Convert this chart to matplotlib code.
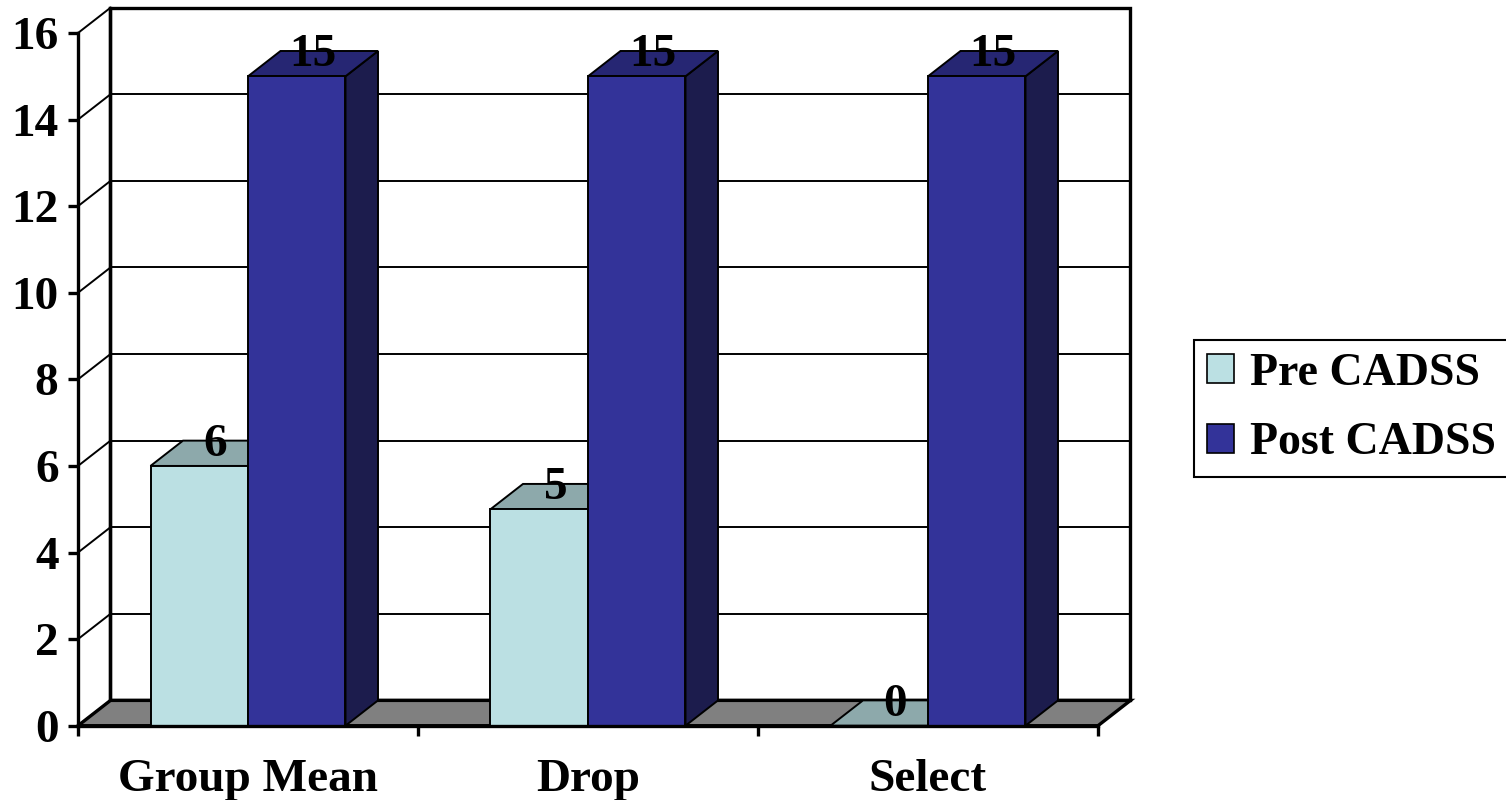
import matplotlib
matplotlib.use("Agg")
import matplotlib.pyplot as plt
from matplotlib.patches import Polygon, Patch
from matplotlib.lines import Line2D

categories = ["Group Mean", "Drop", "Select"]
series_names = ["Pre CADSS", "Post CADSS"]
pre_values = [6, 5, 0]
post_values = [15, 15, 15]
y_ticks = [0, 2, 4, 6, 8, 10, 12, 14, 16]

FONT = "Liberation Serif"
FS = 34

front_colors = ["#BBE0E3", "#333399"]
top_colors = ["#8DA9AB", "#262673"]
side_colors = ["#5E7072", "#1C1C4D"]
floor_color = "#808080"

fig = plt.figure(figsize=(15.06, 8.0), dpi=100)
W, H = 1506, 800
x0px, x1px = 78, 1098
y0px, y1px = 725.7, 33
ax = fig.add_axes([x0px / W, 1 - y0px / H, (x1px - x0px) / W, (y0px - y1px) / H])
ncat = len(categories)
ymax = y_ticks[-1]
ax.set_xlim(0, ncat)
ax.set_ylim(0, ymax)

px_x = (x1px - x0px) / ncat          # pixels per category unit
px_y = (y0px - y1px) / ymax          # pixels per value unit
dx = 32.5 / px_x                     # depth offset
dy = 25.3 / px_y
bw = 97.5 / px_x                     # bar width

LW = 1.4
AXW = 2.4

# back wall
ax.add_patch(Polygon([(dx, dy), (ncat + dx, dy), (ncat + dx, ymax + dy), (dx, ymax + dy)],
                     closed=True, facecolor="white", edgecolor="black", lw=AXW,
                     clip_on=False, zorder=1))
for v in y_ticks:
    ax.add_line(Line2D([dx, ncat + dx], [v + dy, v + dy], color="black", lw=LW,
                       clip_on=False, zorder=1.2))
    ax.add_line(Line2D([0, dx], [v, v + dy], color="black", lw=LW,
                       clip_on=False, zorder=1.2))
ax.add_line(Line2D([dx, dx], [dy, ymax + dy], color="black", lw=AXW, clip_on=False, zorder=1.3))

# floor
ax.add_patch(Polygon([(0, 0), (ncat, 0), (ncat + dx, dy), (dx, dy)], closed=True,
                     facecolor=floor_color, edgecolor="black", lw=AXW, clip_on=False, zorder=1.5))


def draw_bar(xl, val, si, z):
    xr = xl + bw
    front = [(xl, 0), (xr, 0), (xr, val), (xl, val)]
    top = [(xl, val), (xr, val), (xr + dx, val + dy), (xl + dx, val + dy)]
    side = [(xr, 0), (xr + dx, dy), (xr + dx, val + dy), (xr, val)]
    ax.add_patch(Polygon(side, closed=True, facecolor=side_colors[si], edgecolor="black",
                         lw=LW, clip_on=False, zorder=z))
    ax.add_patch(Polygon(top, closed=True, facecolor=top_colors[si], edgecolor="black",
                         lw=LW, clip_on=False, zorder=z))
    if val > 0:
        ax.add_patch(Polygon(front, closed=True, facecolor=front_colors[si], edgecolor="black",
                             lw=LW, clip_on=False, zorder=z + 0.1))
    base_off = 15.5 / px_y
    ax.text(xl + bw / 2 + dx / 2, val + dy - base_off, f"{val:g}", ha="center", va="baseline",
            fontsize=FS, fontweight="bold", family=FONT, zorder=10)


for i in range(ncat):
    c = i + 0.5
    draw_bar(c - bw, pre_values[i], 0, 2 + i)
    draw_bar(c, post_values[i], 1, 2.5 + i)

# axes spines and ticks
for s in ["top", "right"]:
    ax.spines[s].set_visible(False)
ax.spines["left"].set_linewidth(AXW)
ax.spines["bottom"].set_linewidth(AXW)
ax.spines["left"].set_zorder(6)
ax.spines["bottom"].set_zorder(6)
ax.set_facecolor("none")
ax.set_yticks(y_ticks)
ax.set_yticklabels([str(v) for v in y_ticks], fontsize=FS, fontweight="bold", family=FONT)
ax.set_xticks(range(ncat + 1))
ax.set_xticklabels([""] * (ncat + 1))
ax.set_xticks([i + 0.5 for i in range(ncat)], minor=True)
ax.set_xticklabels(categories, minor=True, fontsize=FS, fontweight="bold", family=FONT)
ax.tick_params(axis="y", which="major", length=7, width=AXW, pad=7)
ax.tick_params(axis="x", which="major", length=7, width=AXW)
ax.tick_params(axis="x", which="minor", length=0, pad=24)

handles = [Patch(facecolor=front_colors[k], edgecolor="black", lw=1.2) for k in range(2)]
leg = fig.legend(handles, series_names, loc="upper left",
                 bbox_to_anchor=(1194 / W, 1 - 340 / H), borderaxespad=0,
                 prop={"family": FONT, "weight": "bold", "size": 33},
                 frameon=True, fancybox=False, framealpha=1, edgecolor="black",
                 handlelength=0.6, handleheight=0.6, handletextpad=0.35,
                 labelspacing=0.6, borderpad=0.28)
leg.get_frame().set_linewidth(1.5)

fig.savefig("out.png", dpi=100, facecolor="white")
